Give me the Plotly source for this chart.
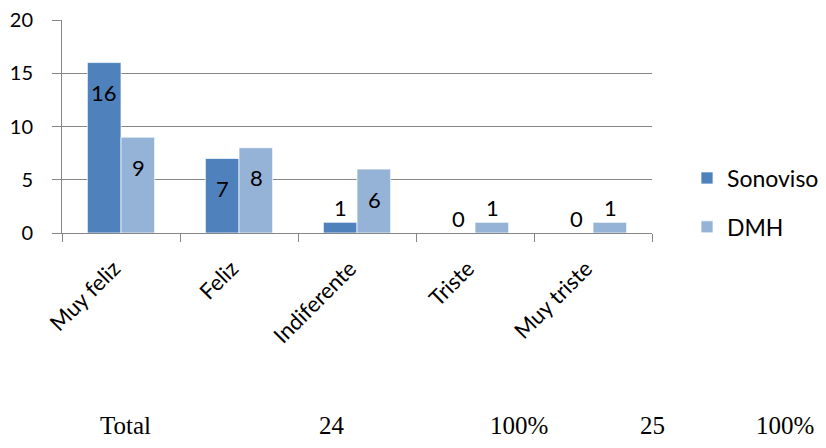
import plotly.graph_objects as go

categories = ["Muy feliz", "Feliz", "Indiferente", "Triste", "Muy triste"]
sonoviso = [16, 7, 1, 0, 0]
dmh = [9, 8, 6, 1, 1]
series_names = ["Sonoviso", "DMH"]
series_colors = ["#4F81BD", "#95B3D7"]
bottom_labels = ["Total", "24", "100%", "25", "100%"]
bottom_x = [125, 332, 519, 652, 785]   # page px centres of the table row

# The page body has an 8px margin; keep the figure inside the window
OFF = 8
W, H = 826 - OFF, 448 - 2 * OFF
ML, MT = 62 - OFF, 20 - OFF
plot_right, plot_bottom = 652 - OFF, 233 - OFF
MR, MB = W - plot_right, H - plot_bottom
plot_w, plot_h = W - ML - MR, H - MT - MB

fig = go.Figure()
for i, (name, vals) in enumerate(zip(series_names, [sonoviso, dmh])):
    fig.add_trace(go.Bar(
        x=categories, y=vals, name=name,
        marker=dict(color=series_colors[i], line=dict(color="rgba(255,255,255,0.7)", width=1)),
        legendgroup=name,
    ))

annotations = []
for i, vals in enumerate([sonoviso, dmh]):
    shift = -17 if i == 0 else 17
    for c, v in zip(categories, vals):
        annotations.append(dict(
            x=c, y=v, xref="x", yref="y", text=str(v), showarrow=False,
            xshift=shift, yshift=(-30 if v > 2 else 15),
            font=dict(family="Lato", size=22, color="black"),
        ))

for lbl, px in zip(bottom_labels, bottom_x):
    annotations.append(dict(
        x=(px - OFF - ML) / plot_w, y=-((425 - OFF) - plot_bottom) / plot_h,
        xref="paper", yref="paper",
        text=lbl, showarrow=False, xanchor="center", yanchor="middle",
        font=dict(family="Liberation Serif", size=25, color="black"),
    ))

fig.update_layout(
    width=W, height=H,
    margin=dict(l=ML, r=MR, t=MT, b=MB, autoexpand=False),
    paper_bgcolor="white", plot_bgcolor="white",
    barmode="group", bargap=0.43, bargroupgap=0.0,
    showlegend=True,
    legend=dict(
        x=(687 - OFF - ML) / plot_w, y=(plot_bottom - (202.5 - OFF)) / plot_h,
        xanchor="left", yanchor="middle",
        font=dict(family="Lato", size=23, color="black"),
        traceorder="grouped", tracegroupgap=16,
        itemwidth=30,
    ),
    annotations=annotations,
    xaxis=dict(
        tickangle=-45, tickson="boundaries", ticks="outside", ticklen=8,
        tickcolor="#868686", showline=True, linecolor="#868686", linewidth=1,
        tickfont=dict(family="Lato", size=22, color="black"),
        ticklabelstandoff=13, ticklabelshift=-7,
        showgrid=False, automargin=False,
    ),
    yaxis=dict(
        range=[0, 20], dtick=5, ticks="outside", ticklen=9, tickcolor="#868686",
        showline=True, linecolor="#868686", linewidth=1,
        showgrid=True, gridcolor="#868686", gridwidth=1, zeroline=False,
        tickfont=dict(family="Lato", size=20, color="black"),
        ticklabelstandoff=15, automargin=False, ticklabeloverflow="allow",
    ),
)

fig.write_html("out.html")
